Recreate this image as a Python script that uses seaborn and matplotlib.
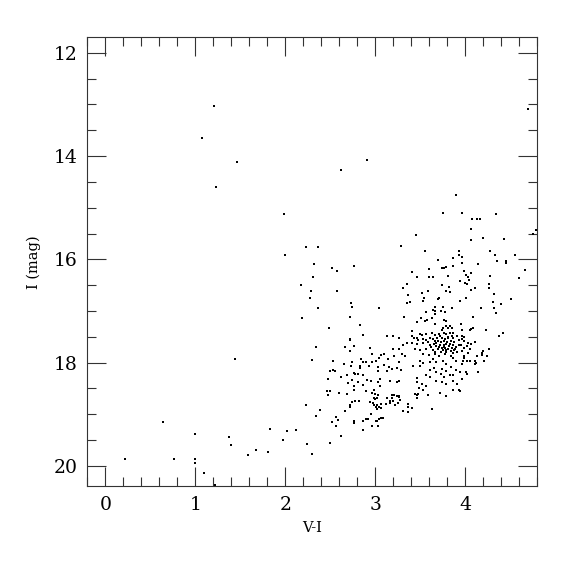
import pandas as pd
import seaborn as sns
import matplotlib.pyplot as plt
from matplotlib.ticker import MultipleLocator

# (V-I, I) pairs, grouped by region of the diagram
bright_stars = [
    (1.21, 13.03), (1.07, 13.65), (1.46, 14.12), (1.23, 14.60), (1.99, 15.13),
    (4.70, 13.08), (2.91, 14.07), (2.615, 14.26), (3.90, 14.76),
]

blue_sequence = [
    (2.23, 15.77), (2.36, 15.76), (2.00, 15.92), (2.315, 16.10), (2.515, 16.16),
    (2.31, 16.35), (2.17, 16.50), (2.19, 17.13), (1.44, 17.94), (2.23, 18.83),
    (0.64, 19.15), (1.00, 19.38), (1.38, 19.44), (1.83, 19.28), (2.02, 19.32),
    (2.115, 19.30), (1.97, 19.50), (2.24, 19.57), (1.40, 19.59), (1.59, 19.79),
    (1.68, 19.70), (1.81, 19.73), (0.22, 19.86), (0.76, 19.86), (1.00, 19.86),
    (1.00, 19.94), (1.10, 20.13), (1.215, 20.38),
    (2.58, 16.23), (2.76, 16.12), (2.29, 16.61), (2.57, 16.61), (2.27, 16.74),
    (2.73, 16.85), (2.74, 16.93), (2.36, 16.95), (2.72, 17.12), (2.83, 17.28),
    (2.49, 17.33), (3.04, 16.95),
]

upper_giants = [
    (3.75, 15.11), (3.97, 15.11), (4.34, 15.12), (4.08, 15.21), (4.13, 15.21),
    (4.17, 15.21), (4.06, 15.41), (3.45, 15.53), (4.76, 15.51), (4.785, 15.44),
    (4.20, 15.58), (4.07, 15.63), (4.43, 15.61), (3.29, 15.74),
    (3.55, 15.83), (3.93, 15.84), (3.93, 15.92), (3.87, 15.98), (3.70, 16.01),
    (3.86, 16.12), (3.74, 16.17), (3.77, 16.16), (3.79, 16.15), (3.60, 16.19),
    (3.415, 16.24), (3.46, 16.34), (3.60, 16.35), (3.64, 16.34), (3.815, 16.32),
    (3.94, 16.42), (3.35, 16.48), (3.74, 16.50), (3.82, 16.53), (3.31, 16.56),
    (3.59, 16.61), (3.79, 16.61), (3.83, 16.63), (3.52, 16.65), (3.36, 16.70),
    (3.54, 16.74), (3.71, 16.74), (3.70, 16.77), (3.53, 16.81), (3.39, 16.83),
    (3.35, 16.85), (3.94, 16.81), (3.75, 16.92), (3.66, 16.93), (3.85, 16.95),
    (3.64, 16.99), (3.67, 17.00), (3.57, 17.02), (3.73, 17.00), (3.66, 17.05),
    (3.78, 17.02), (3.32, 17.12), (3.515, 17.14), (3.63, 17.14), (3.47, 17.22),
    (3.58, 17.17), (3.55, 17.20), (3.76, 17.18), (3.79, 17.20), (3.67, 17.25),
    (3.79, 17.29), (3.83, 17.30), (3.75, 17.33), (3.85, 17.33),
]

red_giants = [
    (4.28, 15.83), (4.33, 15.91), (4.55, 15.92), (3.97, 15.96), (4.35, 16.04),
    (4.45, 16.04), (4.46, 16.07), (4.145, 16.09), (3.97, 16.07), (4.67, 16.20),
    (3.99, 16.23), (4.06, 16.26), (4.01, 16.31), (4.03, 16.34), (4.28, 16.33),
    (4.60, 16.36), (4.04, 16.41), (4.00, 16.45), (4.02, 16.47), (4.27, 16.48),
    (4.27, 16.56), (4.06, 16.59), (4.11, 16.56), (4.32, 16.68), (4.01, 16.75),
    (4.51, 16.77), (4.315, 16.83), (4.40, 16.87), (4.32, 16.95), (4.18, 16.94),
    (4.34, 17.04), (4.09, 17.12), (3.95, 17.26), (3.97, 17.37), (4.05, 17.36),
    (4.07, 17.35), (4.09, 17.34), (4.23, 17.36), (4.42, 17.42), (4.38, 17.49),
    (3.97, 17.48), (3.99, 17.51),
    (3.97, 17.55), (3.99, 17.58), (4.03, 17.62), (4.07, 17.64), (4.115, 17.61),
    (3.956, 17.65), (4.02, 17.68), (4.27, 17.74), (4.05, 17.73), (3.99, 17.71),
    (3.97, 17.77), (4.20, 17.77), (4.19, 17.82), (4.185, 17.86), (4.24, 17.87),
    (3.99, 17.87), (4.03, 17.82), (4.13, 17.87), (3.99, 17.92), (3.98, 17.96),
    (4.02, 17.96), (4.05, 17.96), (4.11, 17.96), (4.21, 17.96), (4.12, 18.00),
    (4.11, 18.03), (3.97, 18.03), (4.145, 18.18), (3.94, 18.18), (4.01, 18.18),
    (4.02, 18.22), (3.97, 18.31), (3.94, 18.55),
]

red_clump = [
    (3.74, 17.37), (3.81, 17.34), (3.41, 17.39), (3.50, 17.45), (3.52, 17.47),
    (3.57, 17.44), (3.63, 17.42), (3.66, 17.46), (3.71, 17.44), (3.76, 17.42),
    (3.79, 17.44), (3.83, 17.42), (3.87, 17.43), (3.91, 17.48), (3.13, 17.48),
    (3.20, 17.49), (3.27, 17.52), (3.41, 17.48), (3.43, 17.53), (3.46, 17.53),
    (3.48, 17.56), (3.53, 17.55), (3.57, 17.56), (3.61, 17.53), (3.64, 17.55),
    (3.69, 17.52), (3.74, 17.53), (3.78, 17.55), (3.815, 17.53), (3.87, 17.53),
    (3.93, 17.56), (3.35, 17.62), (3.31, 17.66), (3.415, 17.62), (3.47, 17.64),
    (3.53, 17.62), (3.59, 17.61), (3.615, 17.65), (3.65, 17.64), (3.68, 17.67),
    (3.72, 17.65), (3.76, 17.69), (3.785, 17.64), (3.82, 17.67), (3.86, 17.65),
    (3.90, 17.70), (3.93, 17.66), (3.20, 17.74), (3.26, 17.73), (3.44, 17.73),
    (3.50, 17.75), (3.57, 17.74), (3.64, 17.75), (3.70, 17.74), (3.75, 17.76),
    (3.79, 17.75), (3.84, 17.78), (3.88, 17.76), (3.91, 17.80), (3.07, 17.85),
    (3.10, 17.83), (3.21, 17.87), (3.30, 17.83), (3.33, 17.87), (3.53, 17.83),
    (3.60, 17.85), (3.67, 17.83), (3.71, 17.87), (3.78, 17.84), (3.84, 17.87),
    (3.87, 17.92), (3.14, 17.94), (3.27, 17.98), (3.50, 17.97), (3.53, 18.01),
    (3.61, 17.98), (3.64, 17.94), (3.68, 17.98), (3.75, 17.97), (3.79, 18.02),
    (3.90, 17.96), (3.10, 18.04), (3.15, 18.09), (3.19, 18.13), (3.245, 18.10),
    (3.29, 18.14), (3.42, 18.07), (3.50, 18.06), (3.61, 18.14), (3.65, 18.10),
    (3.74, 18.13), (3.79, 18.16), (3.84, 18.09), (3.90, 18.14), (3.13, 18.16),
    (3.68, 18.19), (3.73, 18.23), (3.76, 18.27), (3.615, 18.28), (3.56, 18.24),
    (3.47, 18.29), (3.83, 18.25), (3.87, 18.24), (3.05, 18.32), (3.17, 18.36),
    (3.24, 18.38), (3.27, 18.36), (3.47, 18.38), (3.52, 18.42), (3.56, 18.45),
    (3.68, 18.36), (3.74, 18.38), (3.79, 18.42), (3.86, 18.36), (3.91, 18.42),
    (3.49, 18.50), (3.53, 18.54), (3.72, 18.58), (3.87, 18.54), (3.93, 18.54),
    (3.79, 18.65),
    # clump core, where the reference marks pile up
    (3.70, 17.58), (3.73, 17.60), (3.77, 17.58), (3.80, 17.61), (3.84, 17.59),
    (3.88, 17.61), (3.71, 17.70), (3.74, 17.72), (3.78, 17.71), (3.81, 17.73),
    (3.85, 17.71), (3.89, 17.73), (3.68, 17.62), (3.76, 17.66), (3.83, 17.64),
    (3.79, 17.79), (3.73, 17.80), (3.86, 17.81), (3.81, 17.50), (3.85, 17.48),
    (3.72, 17.48), (3.67, 17.58), (3.62, 17.70), (3.66, 17.79),
]

faint_giants = [
    (2.87, 17.46), (2.715, 17.55), (2.72, 17.57), (2.34, 17.69), (2.67, 17.69),
    (2.76, 17.68), (2.715, 17.78), (2.94, 17.71), (2.97, 17.84), (3.04, 17.91),
    (2.30, 17.95), (2.53, 17.97), (2.74, 17.98), (2.84, 17.93), (2.87, 17.98),
    (2.90, 17.98), (2.97, 17.98), (3.01, 17.96), (2.65, 18.02), (2.73, 18.06),
    (2.83, 18.07), (2.835, 18.10), (2.93, 18.06), (3.03, 18.09), (3.03, 18.16),
    (2.50, 18.16), (2.53, 18.14), (2.55, 18.16), (2.76, 18.20), (2.78, 18.23),
    (2.81, 18.22), (2.69, 18.24), (2.86, 18.25), (2.62, 18.27), (2.47, 18.31),
    (2.74, 18.33), (2.91, 18.34), (2.95, 18.36), (2.81, 18.37), (2.70, 18.40),
    (2.86, 18.43), (2.76, 18.45), (3.03, 18.38), (3.05, 18.45), (2.77, 18.53),
    (2.46, 18.56), (2.50, 18.56), (2.48, 18.63), (2.60, 18.59), (2.69, 18.61),
    (2.90, 18.56), (2.96, 18.58), (2.99, 18.54), (3.00, 18.60), (3.03, 18.63),
    (2.99, 18.69), (3.00, 18.71), (3.02, 18.68), (2.74, 18.76), (2.78, 18.74),
    (2.82, 18.74), (2.94, 18.77), (2.98, 18.78), (3.02, 18.82), (3.01, 18.86),
    (3.04, 18.86), (2.72, 18.82), (2.72, 18.86),
    (2.39, 18.92), (2.34, 19.04), (2.30, 19.78), (2.50, 19.55), (2.615, 19.43),
    (2.515, 19.15), (2.56, 19.22), (2.56, 19.05), (2.59, 19.12), (2.67, 18.93),
    (2.76, 19.14), (2.77, 19.17), (2.87, 19.30), (2.87, 19.14), (2.90, 19.10),
    (2.92, 19.10), (2.95, 18.99), (2.97, 19.22), (3.01, 19.14), (3.02, 19.13),
    (3.03, 19.22), (3.015, 18.90), (2.99, 18.83), (3.04, 19.09),
    (3.19, 18.63), (3.21, 18.62), (3.24, 18.64), (3.27, 18.64), (3.27, 18.67),
    (3.28, 18.72), (3.19, 18.69), (3.20, 18.74), (3.13, 18.69), (3.16, 18.74),
    (3.44, 18.61), (3.47, 18.62), (3.48, 18.61), (3.47, 18.69), (3.59, 18.62),
    (3.25, 18.78), (3.16, 18.79), (3.22, 18.83), (3.07, 18.81), (3.06, 18.88),
    (3.12, 18.81), (3.36, 18.81), (3.37, 18.86), (3.41, 18.88), (3.31, 18.94),
    (3.37, 18.96), (3.63, 18.90), (3.06, 19.08), (3.09, 19.08),
]

groups = [bright_stars, blue_sequence, upper_giants, red_giants, red_clump, faint_giants]
stars = pd.DataFrame([p for g in groups for p in g], columns=["V-I", "I"])

sns.set_style("ticks")
plt.rcParams["font.family"] = ["DejaVu Serif"]

fig = plt.figure(figsize=(5.75, 5.75), dpi=100)
ax = fig.add_axes([0.152, 0.154, 0.782, 0.781])

sns.scatterplot(data=stars, x="V-I", y="I", ax=ax, color="black",
                marker="s", s=3.5, linewidth=0, legend=False)

ax.set_xlim(-0.2, 4.8)
ax.set_ylim(20.4, 11.7)
ax.xaxis.set_major_locator(MultipleLocator(1))
ax.xaxis.set_minor_locator(MultipleLocator(0.2))
ax.yaxis.set_major_locator(MultipleLocator(2))
ax.yaxis.set_minor_locator(MultipleLocator(0.5))
ax.tick_params(which="both", direction="in", top=True, right=True,
               color="#333333", width=0.8)
ax.tick_params(which="major", length=13.5, labelsize=13.5, pad=7,
               labelcolor="black")
ax.tick_params(which="minor", length=6.7)
for sp in ax.spines.values():
    sp.set_linewidth(0.8)
    sp.set_color("#333333")

ax.set_xlabel("V-I", fontsize=10.5, labelpad=5, color="black")
ax.set_ylabel("I (mag)", fontsize=10.5, labelpad=9, color="black")

fig.savefig("out.png", dpi=100)
